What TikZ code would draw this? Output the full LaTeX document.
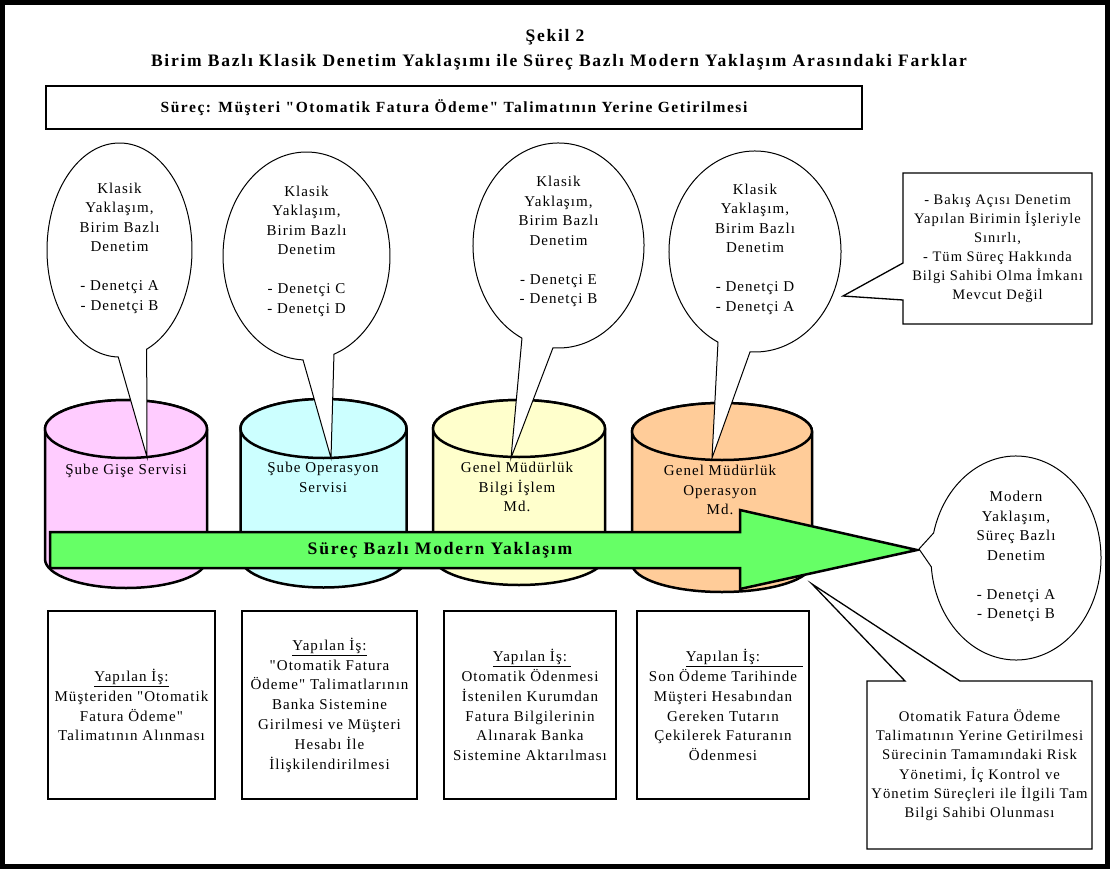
\documentclass[tikz,border=0pt]{standalone}
\usepackage{fontspec}
\setmainfont{Liberation Serif}[LetterSpace=7, Ligatures=TeXOff]
\newfontfamily\headfont{Liberation Serif}[LetterSpace=10, Ligatures=TeXOff]
\usetikzlibrary{calc}

\definecolor{cylpink}{HTML}{FFCCFF}
\definecolor{cylcyan}{HTML}{CCFFFF}
\definecolor{cylyellow}{HTML}{FFFFCC}
\definecolor{cylorange}{HTML}{FFCC99}
\definecolor{arrowgreen}{HTML}{66FF66}

% drum: centre x, top-ellipse y, bottom-ellipse y, x radius, y radius, colour
\newcommand\drawdrum[6]{%
  \path[drum, fill=#6] (#1-#4,#2) -- (#1-#4,#3)
    arc[start angle=180, end angle=0, x radius=#4, y radius=#5]
    -- (#1+#4,#2)
    arc[start angle=0, end angle=-180, x radius=#4, y radius=#5] -- cycle;
  \draw[drum, fill=#6] (#1,#2) ellipse[x radius=#4, y radius=#5];
}
% speech bubble: centre x, centre y, x radius, y radius,
% angle where the arc starts, angle where it ends, tip x, tip y
\newcommand\drawbubble[8]{%
  \path[bubble] (#7,#8) -- ($(#1,#2)+({#3*cos(#5)},{#4*sin(#5)})$)
    arc[start angle=#5, end angle=#6+360, x radius=#3, y radius=#4] -- cycle;
}

\begin{document}
\begin{tikzpicture}[x=1pt, y=-1pt,
  txt/.style={align=center, inner sep=0pt, font=\fontsize{15}{19.5}\selectfont},
  boldtxt/.style={align=center, inner sep=0pt, font=\headfont\fontsize{15.5}{19}\selectfont\bfseries},
  headtxt/.style={align=center, inner sep=0pt, font=\headfont\fontsize{17.5}{20}\selectfont\bfseries},
  drum/.style={draw, line width=2.5pt, line join=round},
  bubble/.style={draw, fill=white, line width=1pt, line join=miter},
  callout/.style={draw, fill=white, line width=1.3pt, line join=miter},
  workbox/.style={draw, fill=white, line width=1.3pt, minimum width=167pt,
    minimum height=188pt, align=center, inner sep=0pt,
    font=\fontsize{15}{19.8}\selectfont},
]
\useasboundingbox (0,0) rectangle (1110,869);

% title
\node[headtxt] (fig) at (555,37) {Şekil 2};
\node[headtxt] (figtitle) at (559,62)
  {Birim Bazlı Klasik Denetim Yaklaşımı ile Süreç Bazlı Modern Yaklaşım Arasındaki Farklar};

% process heading
\node[draw, line width=1.3pt, minimum width=816pt, minimum height=43pt, boldtxt]
  (process) at (454,107.5)
  {Süreç: Müşteri "Otomatik Fatura Ödeme" Talimatının Yerine Getirilmesi};

% units as drums
\drawdrum{126}{429}{559}{81}{29}{cylpink}
\drawdrum{323.5}{428.5}{558}{83}{29.5}{cylcyan}
\drawdrum{519}{428.5}{556.5}{86}{28.5}{cylyellow}
\drawdrum{722}{431.5}{563.5}{90}{28.5}{cylorange}

\node[txt, anchor=north] (unit1) at (126,464) {Şube Gişe Servisi};
\node[txt, anchor=north] (unit2) at (323,462) {Şube Operasyon\\Servisi};
\node[txt, anchor=north] (unit3) at (517,462) {Genel Müdürlük\\Bilgi İşlem\\Md.};
\node[txt, anchor=north] (unit4) at (720,465) {Genel Müdürlük\\Operasyon\\Md.};

% classic audit bubbles
\drawbubble{119.5}{250}{72.5}{107}{91}{68}{147}{457}
\drawbubble{306.5}{256}{83.5}{104}{92.4}{70.8}{331}{458}
\drawbubble{558.5}{245.5}{85.5}{102.5}{115.3}{93.7}{511}{458}
\drawbubble{755}{251.5}{86}{100.5}{115.5}{93.3}{712}{458}

\node[txt] (classic1) at (119.5,248)
  {Klasik\\Yaklaşım,\\Birim Bazlı\\Denetim\\[19.5pt]- Denetçi A\\- Denetçi B};
\node[txt] (classic2) at (306.5,251)
  {Klasik\\Yaklaşım,\\Birim Bazlı\\Denetim\\[19.5pt]- Denetçi C\\- Denetçi D};
\node[txt] (classic3) at (558.5,241.5)
  {Klasik\\Yaklaşım,\\Birim Bazlı\\Denetim\\[19.5pt]- Denetçi E\\- Denetçi B};
\node[txt] (classic4) at (755,249)
  {Klasik\\Yaklaşım,\\Birim Bazlı\\Denetim\\[19.5pt]- Denetçi D\\- Denetçi A};

% process arrow
\path[draw, line width=2.5pt, fill=arrowgreen, line join=miter]
  (50,532) -- (740,532) -- (740,510) -- (917,550) -- (740,589) -- (740,568)
  -- (50,568) -- cycle;
\node[headtxt, font=\headfont\fontsize{17.6}{20}\selectfont\bfseries] (flow) at (440,550)
  {Süreç Bazlı Modern Yaklaşım};

% note on the classic approach
\path[callout] (903,173) -- (1092,173) -- (1092,324) -- (903,324) -- (903,300)
  -- (843,296) -- (903,263) -- cycle;
\node[txt, font=\fontsize{14.5}{19}\selectfont] (classicnote) at (997.5,248.5)
  {- Bakış Açısı Denetim\\Yapılan Birimin İşleriyle\\Sınırlı,\\- Tüm Süreç Hakkında\\Bilgi Sahibi Olma İmkanı\\Mevcut Değil};

% modern audit bubble
\drawbubble{1016}{558}{85}{102}{194.2}{175}{919}{549}
\node[txt] (modern) at (1016,556.5)
  {Modern\\Yaklaşım,\\Süreç Bazlı\\Denetim\\[19.5pt]- Denetçi A\\- Denetçi B};

% note on the modern approach
\path[callout] (867,681) -- (905,681) -- (812,584) -- (960,681) -- (1092,681)
  -- (1092,849) -- (867,849) -- cycle;
\node[txt, font=\fontsize{14.7}{19.3}\selectfont] (modernnote) at (979.5,765)
  {Otomatik Fatura Ödeme\\Talimatının Yerine Getirilmesi\\Sürecinin Tamamındaki Risk\\Yönetimi, İç Kontrol ve\\Yönetim Süreçleri ile İlgili Tam\\Bilgi Sahibi Olunması};

% work done in each unit
\node[workbox] (work1) at (131.5,705)
  {\underline{Yapılan İş:}\\Müşteriden "Otomatik\\Fatura Ödeme"\\Talimatının Alınması};
\node[workbox, minimum width=175pt] (work2) at (329.5,705)
  {\underline{Yapılan İş:}\\"Otomatik Fatura\\Ödeme" Talimatlarının\\Banka Sistemine\\Girilmesi ve Müşteri\\Hesabı İle\\İlişkilendirilmesi};
\node[workbox, minimum width=172pt] (work3) at (530,705)
  {\underline{Yapılan İş:}\rlap{\underline{\vphantom{Yapılan İş:}\hspace{4pt}}}\\Otomatik Ödenmesi\\İstenilen Kurumdan\\Fatura Bilgilerinin\\Alınarak Banka\\Sistemine Aktarılması};
\node[workbox, minimum width=172pt] (work4) at (723,705)
  {\underline{Yapılan İş:}\rlap{\underline{\vphantom{Yapılan İş:}\hspace{43pt}}}\\Son Ödeme Tarihinde\\Müşteri Hesabından\\Gereken Tutarın\\Çekilerek Faturanın\\Ödenmesi};

% outer frame
\draw[line width=5pt] (2.5,2.5) rectangle (1107.5,866.5);
\end{tikzpicture}
\end{document}
